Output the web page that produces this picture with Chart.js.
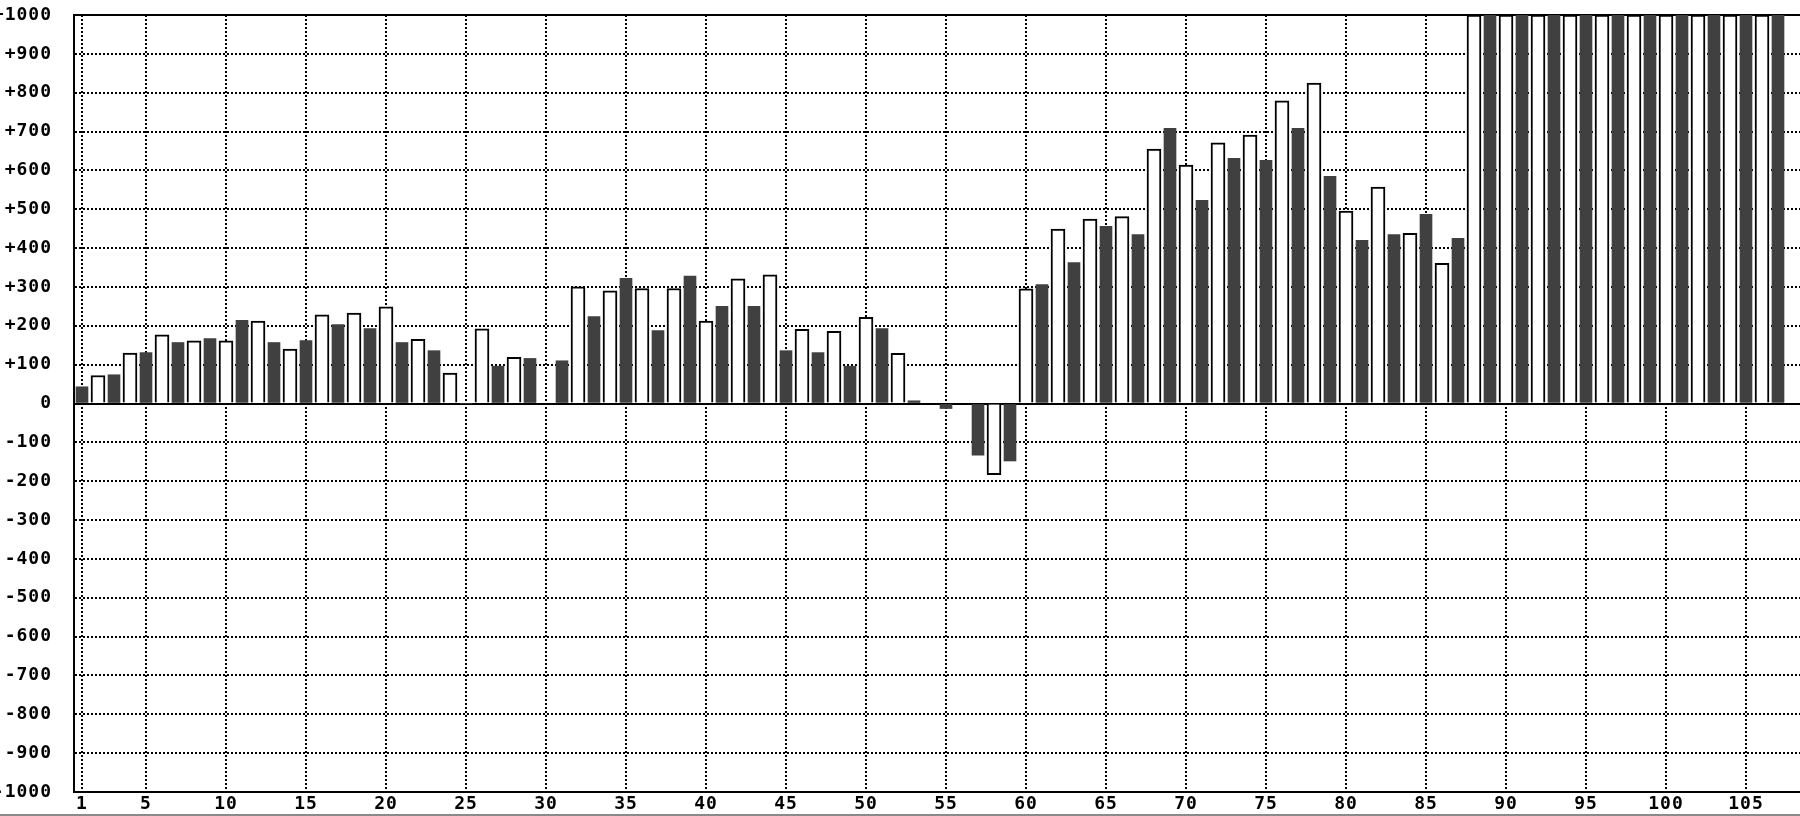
<!DOCTYPE html>
<html>
<head>
<meta charset="utf-8">
<script src="https://cdn.jsdelivr.net/npm/chart.js@4/dist/chart.umd.min.js"></script>
<style>
  html, body { margin: 0; padding: 0; background: #fff; overflow: hidden; }
  #wrap { position: relative; width: 1802px; height: 816px; }
  #edge { position: absolute; left: 0; top: 814px; width: 1800px; height: 2px; background: #8a8a8a; }
</style>
</head>
<body>
<div id="wrap"><canvas id="grafico"></canvas></div>
<div id="edge"></div>
<script>
// categorias 1..108 (la 108 queda sin dato, el eje sigue fuera de la imagen)
const categories = Array.from({ length: 108 }, (_, i) => String(i + 1));

// valores; las barras impares son oscuras, las pares blancas
const values = [
  43, 72, 74, 130, 131, 177, 157, 161, 167, 161,
  214, 212, 157, 140, 162, 228, 203, 233, 193, 249,
  157, 165, 136, 78, 0, 192, 96, 119, 116, 0,
  110, 300, 224, 290, 322, 296, 188, 296, 328, 212,
  250, 321, 250, 331, 136, 191, 131, 186, 96, 222,
  193, 129, 7, null, -13, 0, -133, -183, -148, 295,
  306, 449, 363, 475, 456, 481, 435, 655, 708, 614,
  523, 671, 631, 691, 626, 779, 708, 825, 585, 495,
  420, 557, 435, 438, 487, 361, 425, 1000, 1000, 1000,
  1000, 1000, 1000, 1000, 1000, 1000, 1000, 1000, 1000, 1000,
  1000, 1000, 1000, 1000, 1000, 1000, 1000, null
];

// categorías con etiqueta y línea vertical
const tickLabels = [1, 5, 10, 15, 20, 25, 30, 35, 40, 45, 50, 55, 60, 65, 70, 75, 80, 85, 90, 95, 100, 105];

const yMin = -1000;
const yMax = 1000;
const yStep = 100;

const darkSeries = values.map((v, i) => (i % 2 === 0 ? v : null));
const whiteSeries = values.map((v, i) => (i % 2 === 1 ? v : null));

const FONT = { family: 'DejaVu Sans Mono', size: 18, weight: 'bold' };

// espaciado de letras como el de la fuente original
const espaciado = {
  id: 'espaciado',
  beforeDraw(chart) { chart.ctx.letterSpacing = '1px'; }
};

const esBorde = v => v === 0 || v === yMin || v === yMax;

new Chart(document.getElementById('grafico').getContext('2d'), {
  type: 'bar',
  data: {
    labels: categories,
    datasets: [
      {
        data: darkSeries,
        backgroundColor: '#404040',
        borderWidth: 0,
        barThickness: 12,
        grouped: false
      },
      {
        data: whiteSeries,
        backgroundColor: '#ffffff',
        borderColor: '#000000',
        borderWidth: 2,
        barThickness: 14,
        grouped: false
      }
    ]
  },
  options: {
    responsive: true,
    maintainAspectRatio: false,
    animation: false,
    layout: { padding: { top: 15, left: 0, right: 0, bottom: 0 } },
    plugins: { legend: { display: false }, tooltip: { enabled: false } },
    scales: {
      x: {
        offset: true,
        grid: {
          offset: false,
          drawTicks: false,
          color: '#000',
          lineWidth: ctx => (tickLabels.includes(ctx.index + 1) ? 2 : 0)
        },
        border: { display: true, color: '#000', width: 2, dash: [2, 2] },
        ticks: {
          autoSkip: false,
          maxRotation: 0,
          padding: 2,
          color: '#000',
          font: FONT,
          callback: (val, idx) => (tickLabels.includes(idx + 1) ? categories[idx] : '')
        },
        afterFit: scale => {
          scale.height = 24;
          scale.paddingLeft = 0;
          scale.paddingRight = 0;
        }
      },
      y: {
        min: yMin,
        max: yMax,
        grid: {
          drawTicks: false,
          color: '#000',
          lineWidth: 2
        },
        border: {
          display: true,
          color: '#000',
          width: 2,
          dash: ctx => (esBorde(ctx.tick.value) ? [] : [2, 2])
        },
        ticks: {
          stepSize: yStep,
          padding: 22,
          color: '#000',
          font: FONT,
          callback: v => (v > 0 ? '+' + v : String(v))
        },
        afterFit: scale => {
          scale.width = 74;
          scale.paddingTop = 0;
          scale.paddingBottom = 0;
        }
      }
    }
  },
  plugins: [espaciado]
});
</script>
</body>
</html>
